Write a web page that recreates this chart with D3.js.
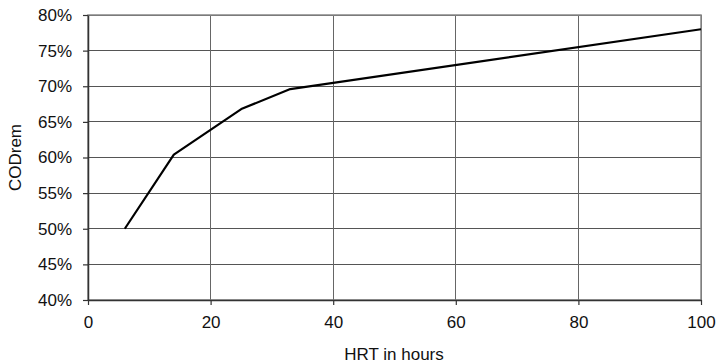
<!DOCTYPE html>
<html>
<head>
<meta charset="utf-8">
<script src="https://cdn.jsdelivr.net/npm/d3@7"></script>
<style>
  html, body { margin: 0; padding: 0; background: #fff; }
  svg { display: block; font-family: "Liberation Sans", Arial, sans-serif; }
</style>
</head>
<body>
<svg id="chart" width="720" height="363"></svg>
<script>
// COD removal as a function of hydraulic retention time
const hrt = [6, 14, 25, 33, 100];
const codRem = [0.50, 0.604, 0.668, 0.696, 0.78];
const xTicks = [0, 20, 40, 60, 80, 100];
const yTicks = [0.40, 0.45, 0.50, 0.55, 0.60, 0.65, 0.70, 0.75, 0.80];

const margin = { left: 88, right: 19, top: 15, bottom: 63 };
const W = 720, H = 363;
const fontSize = "17px";
const svg = d3.select("#chart");

const x = d3.scaleLinear().domain([0, 100]).range([margin.left, W - margin.right]);
const y = d3.scaleLinear().domain([0.40, 0.80]).range([H - margin.bottom, margin.top]);

// grid
const grid = svg.append("g").attr("shape-rendering", "crispEdges");
grid.selectAll("line.h").data(yTicks).join("line")
  .attr("x1", x(0)).attr("x2", x(100))
  .attr("y1", d => y(d)).attr("y2", d => y(d))
  .attr("stroke", "#555").attr("stroke-width", 1);
grid.selectAll("line.v").data(xTicks).join("line")
  .attr("y1", y(0.40)).attr("y2", y(0.80))
  .attr("x1", d => x(d)).attr("x2", d => x(d))
  .attr("stroke", "#666").attr("stroke-width", 1);

// frame top/right
svg.append("rect")
  .attr("x", x(0)).attr("y", y(0.80))
  .attr("width", x(100) - x(0)).attr("height", y(0.40) - y(0.80))
  .attr("fill", "none").attr("stroke", "#888").attr("stroke-width", 1.5);

// axes
const xAxis = d3.axisBottom(x).tickValues(xTicks).tickSize(5).tickPadding(11).tickSizeOuter(0);
const yAxis = d3.axisLeft(y).tickValues(yTicks).tickSize(5).tickPadding(11).tickSizeOuter(0)
  .tickFormat(d3.format(".0%"));

const gx = svg.append("g").attr("transform", `translate(0,${y(0.40)})`).call(xAxis);
const gy = svg.append("g").attr("transform", `translate(${x(0)},0)`).call(yAxis);
[gx, gy].forEach(g => {
  g.select(".domain").attr("stroke", "#333").attr("stroke-width", 1.5);
  g.selectAll(".tick line").attr("stroke", "#333").attr("stroke-width", 1.2);
  g.selectAll(".tick text").attr("fill", "#111").style("font-size", fontSize)
    .style("font-family", "'Liberation Sans', Arial, sans-serif");
});

// data line
const line = d3.line().x((d, i) => x(hrt[i])).y(d => y(d));
svg.append("path").datum(codRem)
  .attr("d", line)
  .attr("fill", "none").attr("stroke", "#000").attr("stroke-width", 2.2)
  .attr("stroke-linejoin", "round");

// axis titles
svg.append("text")
  .attr("x", 394).attr("y", 360)
  .attr("text-anchor", "middle").attr("fill", "#111")
  .style("font-size", fontSize).text("HRT in hours");
svg.append("text")
  .attr("transform", `translate(21,${(y(0.4) + y(0.8)) / 2}) rotate(-90)`)
  .attr("text-anchor", "middle").attr("fill", "#111")
  .style("font-size", fontSize).text("CODrem");
</script>
</body>
</html>
